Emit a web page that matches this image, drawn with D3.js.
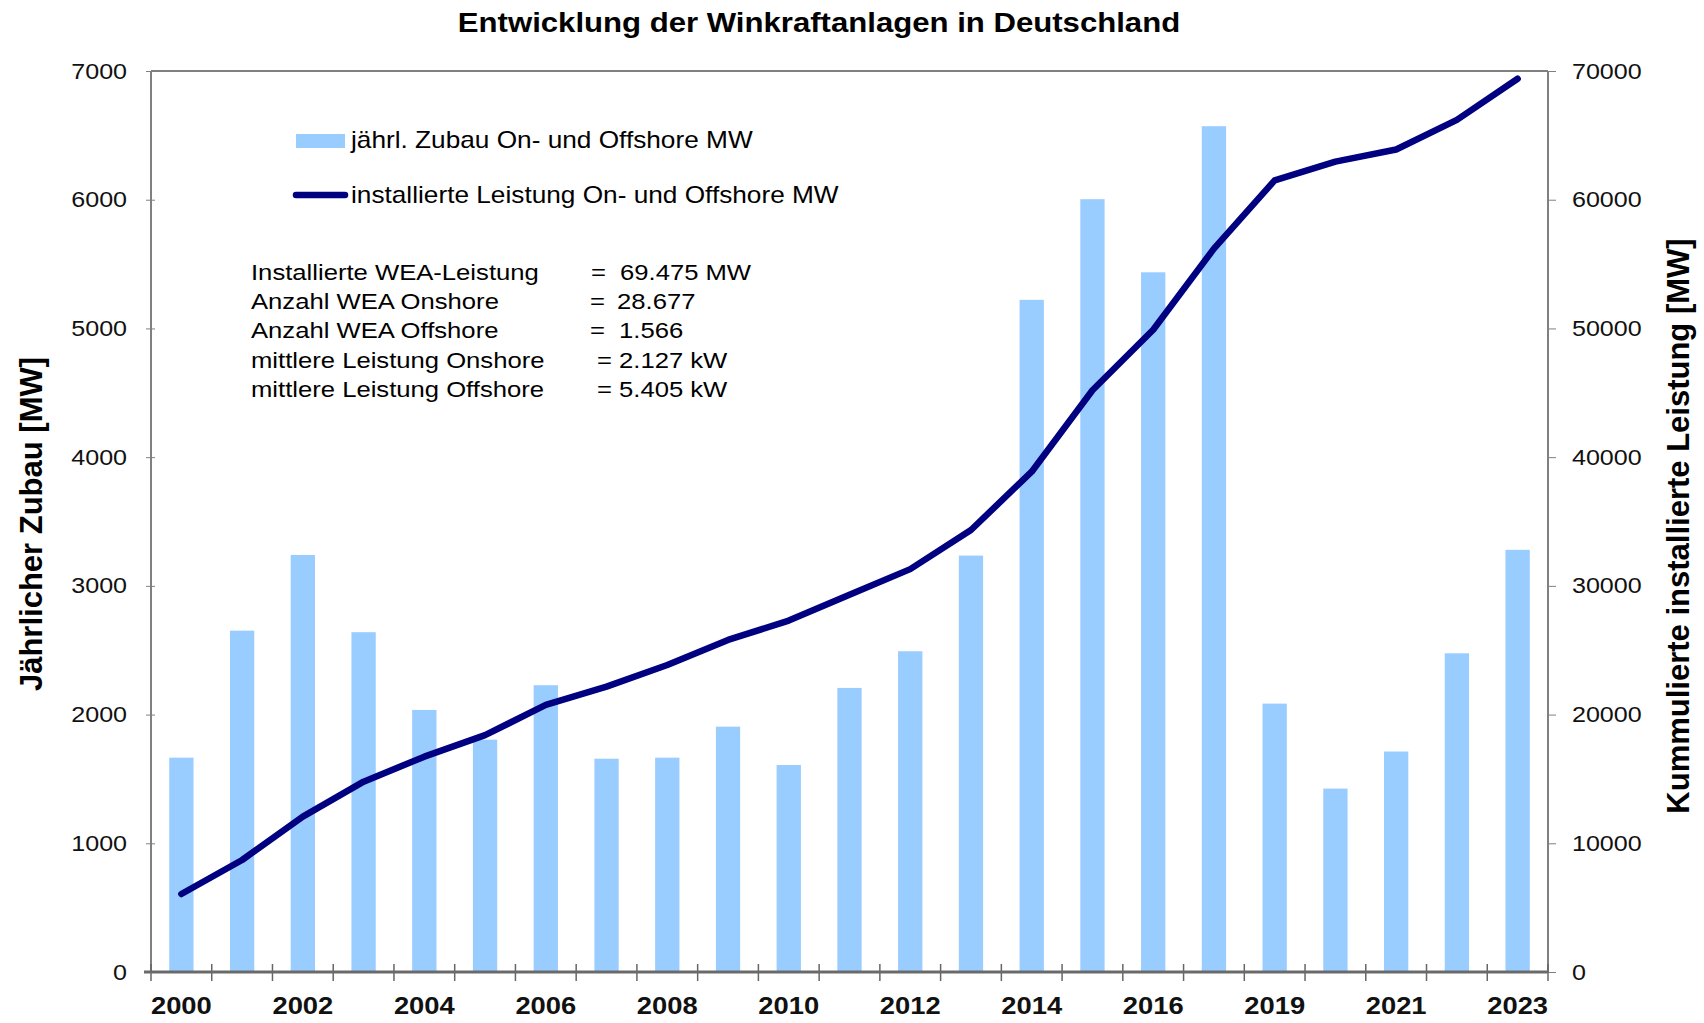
<!DOCTYPE html>
<html>
<head>
<meta charset="utf-8">
<script src="https://d3js.org/d3.v7.min.js"></script>
<style>
  body { margin: 0; background: #fff; }
  svg { display: block; font-family: "Liberation Sans", Arial, Helvetica, sans-serif; }
  .axis text { fill: #111; }
</style>
</head>
<body>
<svg id="chart" width="1704" height="1023"></svg>
<script>
// data (2018 is missing in the original chart)
var years = ["2000","2001","2002","2003","2004","2005","2006","2007","2008","2009","2010",
             "2011","2012","2013","2014","2015","2016","2017","2019","2020","2021","2022","2023"];
var zubau = [1665, 2652, 3240, 2640, 2036, 1805, 2228, 1657, 1665, 1906, 1608,
             2207, 2492, 3235, 5222, 6004, 5436, 6571, 2085, 1425, 1713, 2476, 3280];
var leistung = [6060, 8700, 12070, 14790, 16730, 18400, 20750, 22170, 23850, 25800, 27300,
                29300, 31300, 34340, 38870, 45200, 49900, 56200, 61500, 62960, 63900, 66200, 69400];
var leftTicks = [0, 1000, 2000, 3000, 4000, 5000, 6000, 7000];
var rightTicks = [0, 10000, 20000, 30000, 40000, 50000, 60000, 70000];
var legendLabels = ["jährl. Zubau On- und Offshore MW", "installierte Leistung On- und Offshore MW"];
var infoLabels = ["Installierte WEA-Leistung", "Anzahl WEA Onshore", "Anzahl WEA Offshore",
                  "mittlere Leistung Onshore", "mittlere Leistung Offshore"];
var infoValues = ["69.475 MW", "28.677", "1.566", "2.127 kW", "5.405 kW"];

var title = "Entwicklung der Winkraftanlagen in Deutschland";
var leftTitle = "Jährlicher Zubau [MW]";
var rightTitle = "Kummulierte installierte Leistung [MW]";

var barColor = "#99ccff", lineColor = "#000080", axisColor = "#808080";
var SX = 1.14; // the original picture is stretched sideways

var svg = d3.select("#chart");
var m = {left: 151, right: 1548, top: 71, bottom: 972};

var x = d3.scaleBand().domain(years).range([m.left, m.right]).padding(0);
var yL = d3.scaleLinear().domain([0, 7000]).range([m.bottom, m.top]);
var yR = d3.scaleLinear().domain([0, 70000]).range([m.bottom, m.top]);

function place(sel, px, py) {
  return sel.attr("transform", "translate(" + px + "," + py + ") scale(" + SX + ",1)");
}

// title
place(svg.append("text"), 819, 32)
  .attr("text-anchor", "middle")
  .style("font-size", "27.3px").style("font-weight", "bold")
  .text(title);

// bars
svg.append("g").selectAll("rect")
  .data(zubau)
  .enter().append("rect")
  .attr("x", function(d, i) { return x(years[i]) + x.bandwidth() * 0.3; })
  .attr("y", function(d) { return yL(d); })
  .attr("width", x.bandwidth() * 0.4)
  .attr("height", function(d) { return yL(0) - yL(d); })
  .attr("fill", barColor);

// frame
svg.append("line").attr("x1", m.left).attr("x2", m.right).attr("y1", m.top).attr("y2", m.top)
  .attr("stroke", axisColor).attr("stroke-width", 2);
svg.append("line").attr("x1", m.left).attr("x2", m.left).attr("y1", m.top).attr("y2", m.bottom)
  .attr("stroke", axisColor).attr("stroke-width", 2);
svg.append("line").attr("x1", m.right).attr("x2", m.right).attr("y1", m.top).attr("y2", m.bottom)
  .attr("stroke", axisColor).attr("stroke-width", 2);

// left axis
var gl = svg.append("g").attr("class", "axis").attr("transform", "translate(" + m.left + ",0)")
  .call(d3.axisLeft(yL).tickValues(leftTicks).tickSizeOuter(0).tickFormat(d3.format("d")));
gl.select(".domain").remove();
gl.selectAll(".tick line").attr("x1", 4).attr("x2", -5).attr("stroke", axisColor);
gl.selectAll(".tick text").attr("x", -24 / SX).attr("transform", "scale(" + SX + ",1)")
  .style("font-size", "22px").style("font-family", null);

// right axis
var gr = svg.append("g").attr("class", "axis").attr("transform", "translate(" + m.right + ",0)")
  .call(d3.axisRight(yR).tickValues(rightTicks).tickSizeOuter(0).tickFormat(d3.format("d")));
gr.select(".domain").remove();
gr.selectAll(".tick line").attr("x1", 0).attr("x2", 8).attr("stroke", axisColor);
gr.selectAll(".tick text").attr("x", 24 / SX).attr("transform", "scale(" + SX + ",1)")
  .style("font-size", "22px").style("font-family", null);

// bottom axis: labels on every other band, ticks on band edges
var gb = svg.append("g").attr("class", "axis").attr("transform", "translate(0," + m.bottom + ")")
  .call(d3.axisBottom(x).tickValues(years.filter(function(d, i) { return i % 2 === 0; })).tickSize(0));
gb.select(".domain").remove();
gb.selectAll(".tick text").attr("y", 0).attr("dy", "42px").attr("transform", "scale(" + SX + ",1)")
  .style("font-size", "24px").style("font-weight", "bold").style("font-family", null);
svg.append("g").selectAll("line")
  .data(d3.range(years.length + 1))
  .enter().append("line")
  .attr("x1", function(i) { return m.left + i * x.step(); })
  .attr("x2", function(i) { return m.left + i * x.step(); })
  .attr("y1", m.bottom - 8).attr("y2", m.bottom + 9)
  .attr("stroke", "#666").attr("stroke-width", 1.5);
svg.append("line").attr("x1", m.left - 7).attr("x2", m.right).attr("y1", m.bottom).attr("y2", m.bottom)
  .attr("stroke", "#6a6a6a").attr("stroke-width", 3);

// cumulative line
var line = d3.line()
  .x(function(d, i) { return x(years[i]) + x.bandwidth() / 2; })
  .y(function(d) { return yR(d); });
svg.append("path").datum(leistung)
  .attr("d", line)
  .attr("fill", "none").attr("stroke", lineColor).attr("stroke-width", 6.5)
  .attr("stroke-linejoin", "round").attr("stroke-linecap", "round");

// axis titles
svg.append("text")
  .attr("transform", "translate(31,524) rotate(-90)")
  .attr("text-anchor", "middle").attr("dominant-baseline", "central")
  .style("font-size", "31px").style("font-weight", "bold")
  .text(leftTitle);
svg.append("text")
  .attr("transform", "translate(1678,526) rotate(-90)")
  .attr("text-anchor", "middle").attr("dominant-baseline", "central")
  .style("font-size", "31px").style("font-weight", "bold")
  .text(rightTitle);

// legend
var lg = svg.append("g");
lg.append("rect").attr("x", 296).attr("y", 134).attr("width", 49).attr("height", 14).attr("fill", barColor);
lg.append("line").attr("x1", 296).attr("x2", 345).attr("y1", 195).attr("y2", 195)
  .attr("stroke", lineColor).attr("stroke-width", 6.5).attr("stroke-linecap", "round");
legendLabels.forEach(function(t, i) {
  place(lg.append("text"), 351, 148 + i * 55).style("font-size", "23px").text(t);
});

// info block
var eqX = [591, 590, 590, 597, 597];
var valX = [620, 617, 619, 619, 619];
var info = svg.append("g");
infoLabels.forEach(function(t, i) {
  var by = 280 + i * 29.2;
  place(info.append("text"), 251, by).style("font-size", "22.5px").text(t);
  place(info.append("text"), eqX[i], by).style("font-size", "22.5px").text("=");
  place(info.append("text"), valX[i], by).style("font-size", "22.5px").text(infoValues[i]);
});
</script>
</body>
</html>
